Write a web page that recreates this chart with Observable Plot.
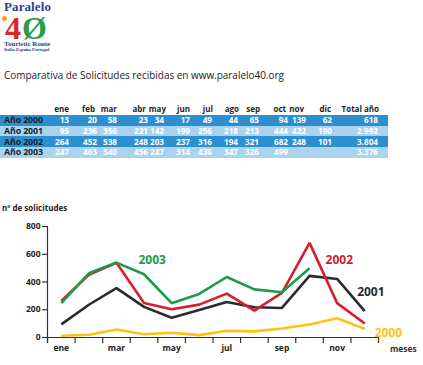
<!DOCTYPE html>
<html><head><meta charset="utf-8">
<script src="https://cdn.jsdelivr.net/npm/d3@7"></script>
<script src="https://cdn.jsdelivr.net/npm/@observablehq/plot@0.6"></script>
<style>
body{margin:0;background:#fff;width:423px;height:365px;overflow:hidden;position:relative;font-family:"Open Sans",sans-serif;}
.abs{position:absolute;white-space:nowrap;}
</style></head><body>
<div id="root"></div>
<script>
const months = ["ene","feb","mar","abr","may","jun","jul","ago","sep","oct","nov","dic"];
const years = ["2000","2001","2002","2003"];
const v2000 = [13,20,58,23,34,17,49,44,65,94,139,62];
const v2001 = [95,236,356,221,142,199,256,218,213,444,422,190];
const v2002 = [264,452,538,248,203,237,316,194,321,682,248,101];
const v2003 = [247,463,540,456,247,314,436,347,326,499,null,null];
const totals = ["618","2.992","3.804","3.376"];
const yTicks = [0,200,400,600,800];
const seriesColors = ["#ffc20e","#2b2b2b","#d4202e","#1e9a4b"];

const root = document.getElementById("root");
function add(html){ root.insertAdjacentHTML("beforeend", html); }

// Logo
add(`<div class="abs" style="left:4px;top:1px;font:bold 13px/12px 'Liberation Serif';color:#2a3f8e;letter-spacing:0.1px">Paralelo</div>`);
add(`<div class="abs" style="left:2px;top:16px;width:5px;height:5px;border-radius:50%;background:#f6a21a"></div>`);
add(`<div class="abs" style="left:5px;top:17px;font:bold 32px/22px 'Liberation Serif';color:#d9262b">4</div>`);
add(`<div class="abs" style="left:22px;top:17px;font:bold 32px/22px 'Liberation Serif';color:#2a9a47">Ø</div>`);
add(`<div class="abs" style="left:4px;top:41px;font:bold 7px/6px 'Liberation Serif';color:#2a3f8e">Touristic Route</div>`);
add(`<div class="abs" style="left:4px;top:48px;font:bold 4.6px/4px 'Liberation Serif';color:#2a3f8e">Italia-España-Portugal</div>`);

// Title
add(`<div class="abs" style="left:4px;top:68px;font-size:9.95px;color:#222">Comparativa de Solicitudes recibidas en www.paralelo40.org</div>`);

// Table
const colRight = [69,97,117,148,164,190,212,238,259,288,306,332];
const hdrRight = [69,95,117,146,166,190,213,239,260,286,304,331];
const totalRight = 379;
const rowTop = 115, rowH = 10.7, tableW = 388;
const rowBg = ["#2d8fd0","#a9d3ef","#2d8fd0","#a9d3ef"];
const hdrStyle = "font-weight:bold;font-size:8px;color:#1f1f1f;line-height:10px";
months.forEach((m,i)=>add(`<div class="abs" style="${hdrStyle};right:${423-hdrRight[i]}px;top:104px">${m}</div>`));
add(`<div class="abs" style="${hdrStyle};right:${423-totalRight}px;top:104px">Total año</div>`);
const allVals = [v2000,v2001,v2002,v2003];
const cell = "font-weight:bold;font-size:8.2px;line-height:10px";
years.forEach((y,r)=>{
  const top = rowTop + r*rowH;
  add(`<div class="abs" style="left:0;top:${top}px;width:${tableW}px;height:${rowH}px;background:${rowBg[r]}"></div>`);
  add(`<div class="abs" style="left:4px;top:${top+0.3}px;${cell};font-size:8.8px;letter-spacing:-0.1px;color:#1a1f2e">Año ${y}</div>`);
  allVals[r].forEach((v,i)=>{ if(v!=null) add(`<div class="abs" style="right:${423-colRight[i]}px;top:${top+0.3}px;${cell};color:#fff">${v}</div>`); });
  add(`<div class="abs" style="right:${423-totalRight+1}px;top:${top+0.3}px;${cell};color:#fff">${totals[r]}</div>`);
});

// Chart
const rows = [];
allVals.forEach((arr,r)=>arr.forEach((v,i)=>rows.push({year: years[r], m: i, v})));
const bounds = d3.range(0,13).map(i=>i-0.5);

const chart = Plot.plot({
  width: 423, height: 162,
  marginLeft: 47, marginRight: 45, marginTop: 26, marginBottom: 25,
  style: {fontFamily: "Open Sans", fontSize: "8.5px", fontWeight: "bold", color: "#222", background: "transparent"},
  x: {domain: [-0.5, 11.5], axis: null},
  y: {domain: [0, 800], axis: null},
  color: {domain: years, range: seriesColors},
  marks: [
    Plot.axisY({ticks: yTicks, tickSize: 5, tickPadding: 2, label: null, stroke: "#333", strokeWidth: 1.2}),
    Plot.axisX({ticks: [0,2,4,6,8,10], tickSize: 0, tickPadding: 7, tickFormat: i => months[i], label: null}),
    Plot.tickX(bounds, {x: d => d, insetTop: 111, insetBottom: -6, stroke: "#333", strokeWidth: 1.2}),
    Plot.ruleX([-0.5], {insetBottom: -6, stroke: "#333", strokeWidth: 1.2}),
    Plot.ruleY([0], {stroke: "#333", strokeWidth: 1.2}),
    Plot.lineY(rows, {x: "m", y: "v", z: "year", stroke: "year", strokeWidth: 2.6, strokeLinejoin: "miter", strokeLinecap: "butt"}),
    Plot.text(rows, {filter: d => d.year==="2003" && d.m===2, x: "m", y: "v", text: "year", fill: "year", dx: 22, dy: -2, textAnchor: "start", fontSize: 12}),
    Plot.text(rows, {filter: d => d.year==="2002" && d.m===9, x: "m", y: "v", text: "year", fill: "year", dx: 16, dy: 17, textAnchor: "start", fontSize: 12}),
    Plot.text(rows, {filter: d => d.year==="2001" && d.m===10, x: "m", y: "v", text: "year", fill: "year", dx: 20, dy: 13, textAnchor: "start", fontSize: 12}),
    Plot.text(rows, {filter: d => d.year==="2000" && d.m===11, x: "m", y: "v", text: "year", fill: "year", dx: 10, dy: 4, textAnchor: "start", fontSize: 12})
  ]
});
chart.style.position = "absolute";
chart.style.left = "0px";
chart.style.top = "200px";
root.appendChild(chart);

add(`<div class="abs" style="left:2px;top:203px;font-weight:bold;font-size:8px;line-height:10px;color:#222">nº de solicitudes</div>`);
add(`<div class="abs" style="left:390px;top:344px;font-weight:bold;font-size:8.5px;line-height:10px;color:#333">meses</div>`);
</script>
</body></html>
